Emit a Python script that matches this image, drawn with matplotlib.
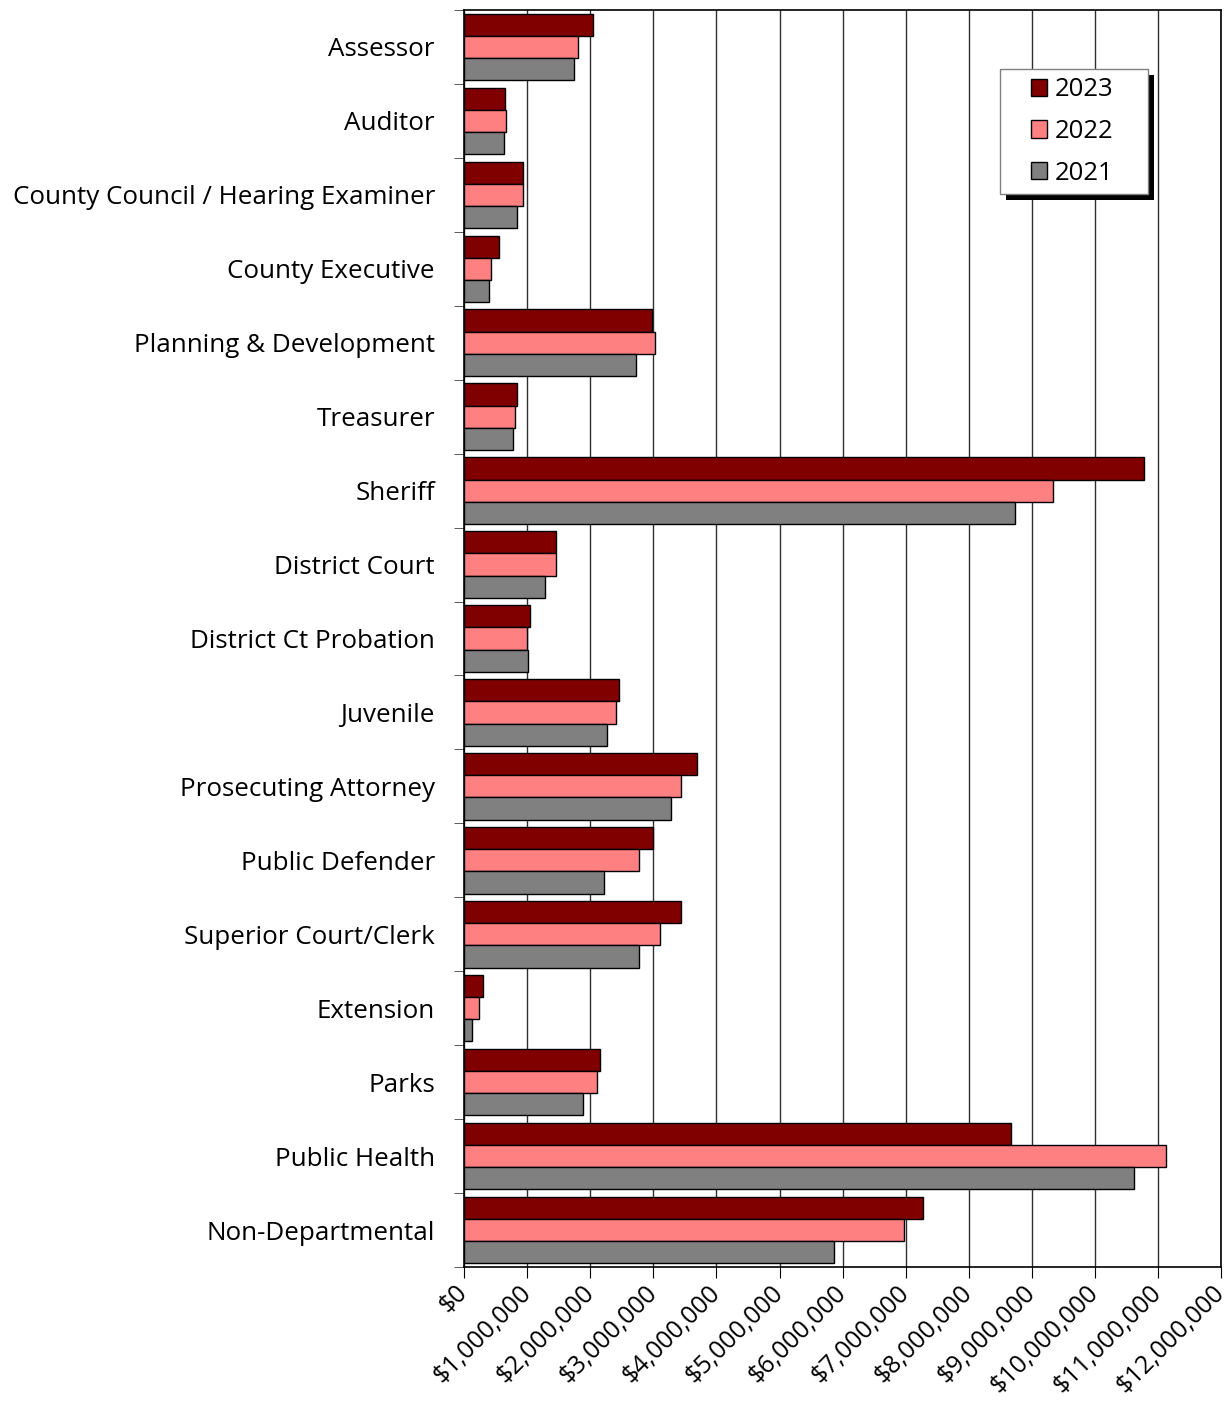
import matplotlib
matplotlib.use('Agg')
import matplotlib.pyplot as plt
import numpy as np
from matplotlib.ticker import FuncFormatter, MultipleLocator
from matplotlib.patches import Rectangle

plt.rcParams['font.family'] = ['Open Sans', 'DejaVu Sans']

# departments, top to bottom
departments = ['Assessor', 'Auditor', 'County Council / Hearing Examiner',
               'County Executive', 'Planning & Development', 'Treasurer',
               'Sheriff', 'District Court', 'District Ct Probation', 'Juvenile',
               'Prosecuting Attorney', 'Public Defender', 'Superior Court/Clerk',
               'Extension', 'Parks', 'Public Health', 'Non-Departmental']

# budget in dollars
y2023 = [2040000, 650000, 930000, 550000, 2980000, 840000, 10770000, 1460000,
         1050000, 2450000, 3690000, 3000000, 3440000, 300000, 2160000,
         8670000, 7280000]
y2022 = [1800000, 660000, 930000, 420000, 3030000, 800000, 9330000, 1460000,
         990000, 2410000, 3440000, 2770000, 3100000, 230000, 2100000,
         11120000, 6970000]
y2021 = [1740000, 640000, 835000, 400000, 2720000, 770000, 8730000, 1290000,
         1010000, 2260000, 3280000, 2210000, 2780000, 130000, 1880000,
         10620000, 5870000]

years = ['2023', '2022', '2021']
colors = ['#800000', '#FF8080', '#808080']

fig = plt.figure(figsize=(12.31, 14.09), dpi=100)
ax = fig.add_axes([0.377, 0.1008, 0.615, 0.8921])

pos = np.arange(len(departments))
h = 0.3
for i, (vals, yr, c) in enumerate(zip([y2023, y2022, y2021], years, colors)):
    ax.barh(pos + (i - 1) * h, vals, height=h, color=c, edgecolor='black',
            linewidth=1, label=yr, zorder=3)

ax.set_xlim(0, 12000000)
ax.set_ylim(len(departments) - 0.5, -0.5)
ax.xaxis.set_major_locator(MultipleLocator(1000000))
ax.xaxis.set_major_formatter(FuncFormatter(lambda v, p: '${:,.0f}'.format(v)))
ax.grid(axis='x', color='#303030', linewidth=1, zorder=0)

ax.set_yticks(pos)
ax.set_yticklabels(departments, fontsize=18.75)
ax.set_yticks(np.arange(-0.5, len(departments), 1), minor=True)
ax.tick_params(axis='y', which='major', length=0, pad=21)
ax.tick_params(axis='y', which='minor', length=7, color='#404040')
ax.tick_params(axis='x', length=8, labelsize=18, pad=8)
for lab in ax.get_xticklabels():
    lab.set_rotation(45)
    lab.set_ha('right')
    lab.set_va('center')
    lab.set_rotation_mode('anchor')

for s in ax.spines.values():
    s.set_linewidth(1.2)

# legend box drawn by hand: white frame with a hard black drop shadow
bx0, bx1, by0, by1 = 0.708, 0.9036, 0.8536, 0.9531
ax.add_patch(Rectangle((bx0 + 0.0079, by0 - 0.0048), bx1 - bx0, by1 - by0,
                       transform=ax.transAxes, facecolor='black',
                       edgecolor='none', zorder=5))
ax.add_patch(Rectangle((bx0, by0), bx1 - bx0, by1 - by0,
                       transform=ax.transAxes, facecolor='white',
                       edgecolor='#808080', linewidth=1, zorder=5.5))

leg = ax.legend(loc='center', bbox_to_anchor=(0.8032, 0.9033), fontsize=18.5,
                frameon=False, handlelength=0.66, handleheight=0.66,
                handletextpad=0.3, labelspacing=0.65, borderpad=0,
                borderaxespad=0)
leg.set_zorder(6)

fig.savefig('out.png', dpi=100)
